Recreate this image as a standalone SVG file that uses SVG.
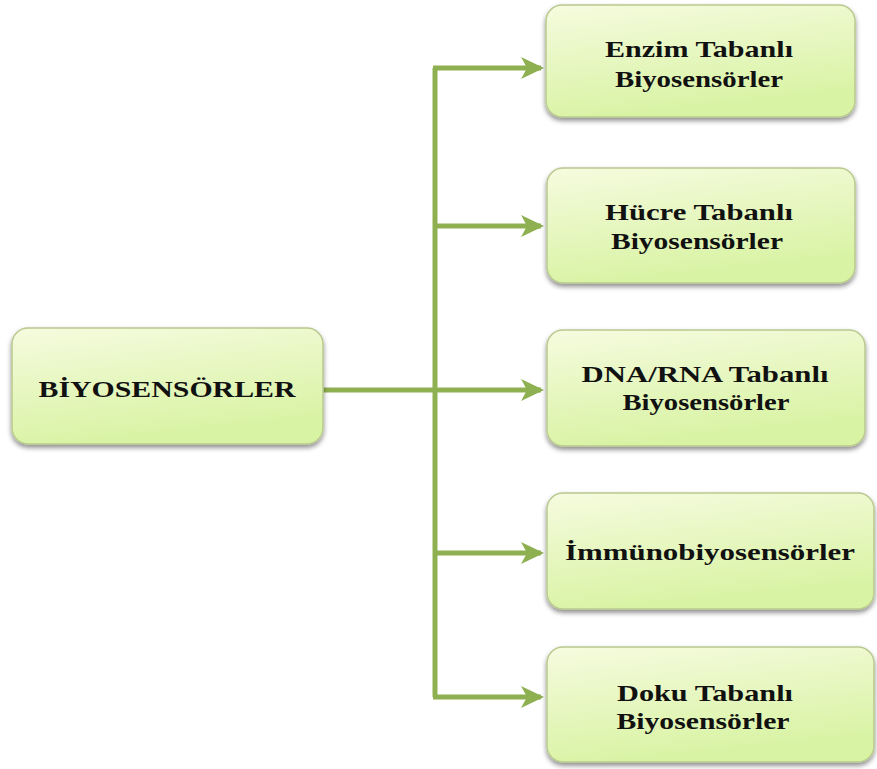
<svg xmlns="http://www.w3.org/2000/svg" width="877" height="769" viewBox="0 0 877 769">
<defs>
<linearGradient id="g" x1="0" y1="0" x2="0.3" y2="1">
<stop offset="0" stop-color="#f6fbdf"/>
<stop offset="1" stop-color="#d8f3a3"/>
</linearGradient>
<filter id="sh" x="-10%" y="-10%" width="120%" height="130%">
<feGaussianBlur in="SourceAlpha" stdDeviation="2.5"/>
<feOffset dx="0" dy="3" result="b"/>
<feComponentTransfer><feFuncA type="linear" slope="0.45"/></feComponentTransfer>
<feMerge><feMergeNode/><feMergeNode in="SourceGraphic"/></feMerge>
</filter>
<marker id="ah" markerWidth="5" markerHeight="5" refX="4" refY="2.5" orient="auto" markerUnits="strokeWidth">
<path d="M0,0.3 L4.6,2.5 L0,4.7 L1.2,2.5 Z" fill="#8fb051"/>
</marker>
</defs>
<style>
.box{fill:url(#g);stroke:#b9c98f;stroke-width:1.5;filter:url(#sh)}
.t{font-family:"Liberation Serif","Times New Roman",serif;font-weight:bold;font-size:24px;fill:#111;text-anchor:middle}
.c{stroke:#8fb051;stroke-width:5;fill:none}
</style>
<g id="connectors">
<path class="c" d="M323,390 H435"/>
<path class="c" d="M435,68 V697"/>
<path class="c" d="M433,68 H541" marker-end="url(#ah)"/>
<path class="c" d="M435,226 H541" marker-end="url(#ah)"/>
<path class="c" d="M435,390 H541" marker-end="url(#ah)"/>
<path class="c" d="M435,553 H541" marker-end="url(#ah)"/>
<path class="c" d="M433,697 H541" marker-end="url(#ah)"/>
</g>
<g id="root">
<rect class="box" x="12" y="328" width="311" height="116" rx="16"/>
<text class="t" x="167" y="397" textLength="257" lengthAdjust="spacingAndGlyphs">BİYOSENSÖRLER</text>
</g>
<g id="enzim">
<rect class="box" x="546" y="5" width="309" height="112" rx="16"/>
<text class="t" x="699" y="57" textLength="188" lengthAdjust="spacingAndGlyphs">Enzim Tabanlı</text>
<text class="t" x="699" y="87" textLength="168" lengthAdjust="spacingAndGlyphs">Biyosensörler</text>
</g>
<g id="hucre">
<rect class="box" x="547" y="168" width="308" height="115" rx="16"/>
<text class="t" x="699" y="220" textLength="188" lengthAdjust="spacingAndGlyphs">Hücre Tabanlı</text>
<text class="t" x="697" y="249" textLength="172" lengthAdjust="spacingAndGlyphs">Biyosensörler</text>
</g>
<g id="dna">
<rect class="box" x="547" y="330" width="318" height="116" rx="16"/>
<text class="t" x="705" y="382" textLength="247" lengthAdjust="spacingAndGlyphs">DNA/RNA Tabanlı</text>
<text class="t" x="706" y="410" textLength="167" lengthAdjust="spacingAndGlyphs">Biyosensörler</text>
</g>
<g id="immuno">
<rect class="box" x="547" y="493" width="327" height="116" rx="16"/>
<text class="t" x="710" y="560" textLength="290" lengthAdjust="spacingAndGlyphs">İmmünobiyosensörler</text>
</g>
<g id="doku">
<rect class="box" x="547" y="647" width="327" height="115" rx="16"/>
<text class="t" x="705" y="701" textLength="176" lengthAdjust="spacingAndGlyphs">Doku Tabanlı</text>
<text class="t" x="703" y="729" textLength="173" lengthAdjust="spacingAndGlyphs">Biyosensörler</text>
</g>
</svg>
